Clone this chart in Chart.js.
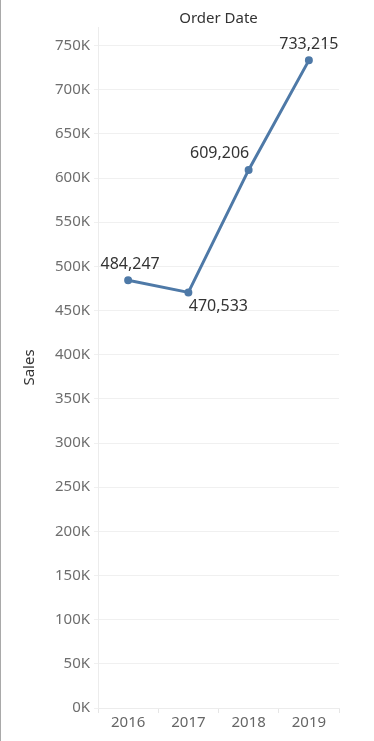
<!DOCTYPE html>
<html>
<head>
<meta charset="utf-8">
<script src="https://cdn.jsdelivr.net/npm/chart.js@4"></script>
<style>
  html, body { margin: 0; padding: 0; background: #fff; }
  body { width: 374px; height: 741px; border-left: 1px solid #a9a9a9; box-sizing: border-box; }
  #wrap { width: 373px; height: 741px; }
</style>
</head>
<body>
<div id="wrap"><canvas id="myChart" width="373" height="741"></canvas></div>
<script>
const years = ['2016', '2017', '2018', '2019']
const sales = [484247, 470533, 609206, 733215]
const yTicks = [0, 50000, 100000, 150000, 200000, 250000, 300000, 350000,
    400000, 450000, 500000, 550000, 600000, 650000, 700000, 750000]
const yMax = 771000

// where each value label sits relative to its point
const labelOffsets = [[2, -16], [30, 14], [-29, -16], [0, -16]]

const valueLabels = {
    id: 'valueLabels',
    afterDatasetsDraw(chart) {
        const ctx = chart.ctx
        const meta = chart.getDatasetMeta(0)
        ctx.save()
        ctx.font = '16px "Noto Sans"'
        ctx.fillStyle = '#333'
        ctx.textAlign = 'center'
        ctx.textBaseline = 'middle'
        meta.data.forEach((pt, i) => {
            const off = labelOffsets[i]
            ctx.fillText(sales[i].toLocaleString('en-US'), pt.x + off[0], pt.y + off[1])
        })
        ctx.restore()
    }
}

const ctx = document.getElementById('myChart').getContext('2d')
new Chart(ctx, {
    type: 'line',
    data: {
        labels: years,
        datasets: [{
            data: sales,
            borderColor: '#4e79a7',
            backgroundColor: '#4e79a7',
            borderWidth: 3,
            pointRadius: 2.5,
            pointHoverRadius: 2.5,
            tension: 0,
            fill: false
        }]
    },
    options: {
        responsive: false,
        animation: false,
        layout: { padding: { left: 0, right: 35, top: 0, bottom: 0 } },
        plugins: { legend: { display: false }, tooltip: { enabled: false } },
        scales: {
            x: {
                offset: true,
                grid: { drawOnChartArea: false, offset: true, color: '#e6e6e6', tickLength: 5 },
                border: { color: '#ececec' },
                ticks: { color: '#666', font: { family: 'Noto Sans', size: 15 }, padding: 1 },
                afterFit: (s) => { s.height = 33 }
            },
            xTop: {
                position: 'top',
                type: 'category',
                labels: years,
                grid: { display: false },
                border: { display: false },
                ticks: { display: false },
                title: { display: true, text: 'Order Date', color: '#333', font: { family: 'Noto Sans', size: 15 }, padding: { top: 10, bottom: 0 } },
                afterFit: (s) => { s.height = 27 }
            },
            y: {
                min: 0,
                max: yMax,
                grid: { color: '#f0f0f0', tickLength: 4 },
                border: { color: '#ececec' },
                afterBuildTicks: (s) => { s.ticks = yTicks.map((v) => ({ value: v })) },
                ticks: {
                    color: '#6e6e6e',
                    font: { family: 'Noto Sans', size: 15 },
                    padding: 4,
                    callback: (v) => (v / 1000) + 'K'
                },
                title: { display: true, text: 'Sales', color: '#333', font: { family: 'Noto Sans', size: 15 }, padding: { top: 20, bottom: 0 } },
                afterFit: (s) => { s.width = 97 }
            }
        }
    },
    plugins: [valueLabels]
})
</script>
</body>
</html>
